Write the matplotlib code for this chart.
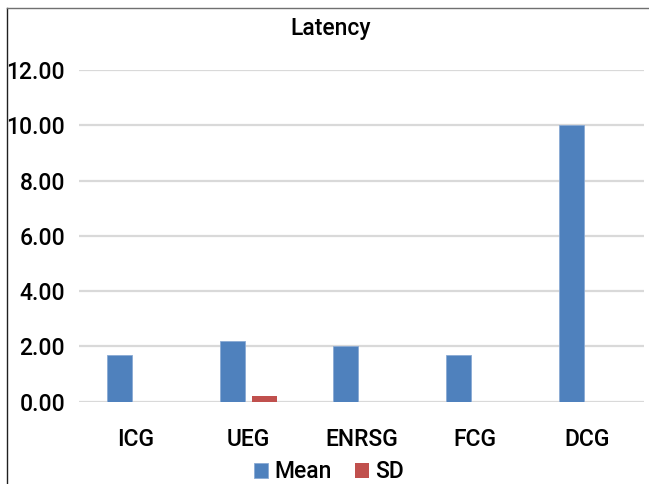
import matplotlib
matplotlib.use("Agg")
import matplotlib.pyplot as plt
from matplotlib.lines import Line2D
import numpy as np

# values
groups = ["ICG", "UEG", "ENRSG", "FCG", "DCG"]
mean_vals = [1.70, 2.20, 2.00, 1.70, 10.00]
sd_vals = [0.0, 0.22, 0.0, 0.0, 0.0]
y_ticks = [0, 2, 4, 6, 8, 10, 12]


def main():
    plt.rcParams["font.family"] = ["Roboto", "DejaVu Sans"]
    plt.rcParams["font.weight"] = "medium"

    W, H = 649, 484
    fig = plt.figure(figsize=(W / 100, H / 100), dpi=100)
    ax = fig.add_axes([79 / W, 82.3 / H, 565 / W, 331.7 / H])

    x = np.arange(len(groups))
    width = 0.227
    gap = 0.056
    off = width / 2 + gap / 2
    ax.bar(x - off, mean_vals, width, color="#4F81BD",
           edgecolor="#8AAAD4", linewidth=0.6, label="Mean", zorder=3)
    ax.bar(x + off, sd_vals, width, color="#C0504D",
           label="SD", zorder=3)

    ax.set_xlim(-0.5, len(groups) - 0.5)
    ax.set_ylim(0, 12)
    ax.set_yticks(y_ticks)
    ax.set_yticklabels(["{:.2f}".format(v) for v in y_ticks])
    ax.set_xticks(x)
    ax.set_xticklabels(groups)
    ax.tick_params(axis="both", length=0, labelsize=16.5, colors="black")
    ax.tick_params(axis="x", pad=19)
    ax.tick_params(axis="y", pad=10)

    ax.grid(axis="y", color="#D9D9D9", linewidth=1.6, zorder=0)
    ax.set_axisbelow(True)
    for s in ax.spines.values():
        s.set_visible(False)

    fig.text(331 / W, 1 - 29 / H, "Latency", ha="center", va="center",
             fontsize=16.5)

    fig.legend(loc="center", bbox_to_anchor=(329 / W, 1 - 472 / H),
               ncol=2, frameon=False, handlelength=0.6,
               handleheight=0.6, handletextpad=0.3, columnspacing=1.0,
               borderpad=0.1, prop={"weight": "medium", "size": 16.5})

    # chart frame (cropped at right and bottom in the reference)
    fig.add_artist(Line2D([7 / W, 7 / W], [0, 1 - 8 / H],
                          transform=fig.transFigure, color="#202020",
                          linewidth=1.0))
    fig.add_artist(Line2D([7 / W, 1], [1 - 8 / H, 1 - 8 / H],
                          transform=fig.transFigure, color="#707070",
                          linewidth=1.0))

    fig.savefig("out.png", dpi=100)


if __name__ == "__main__":
    main()
